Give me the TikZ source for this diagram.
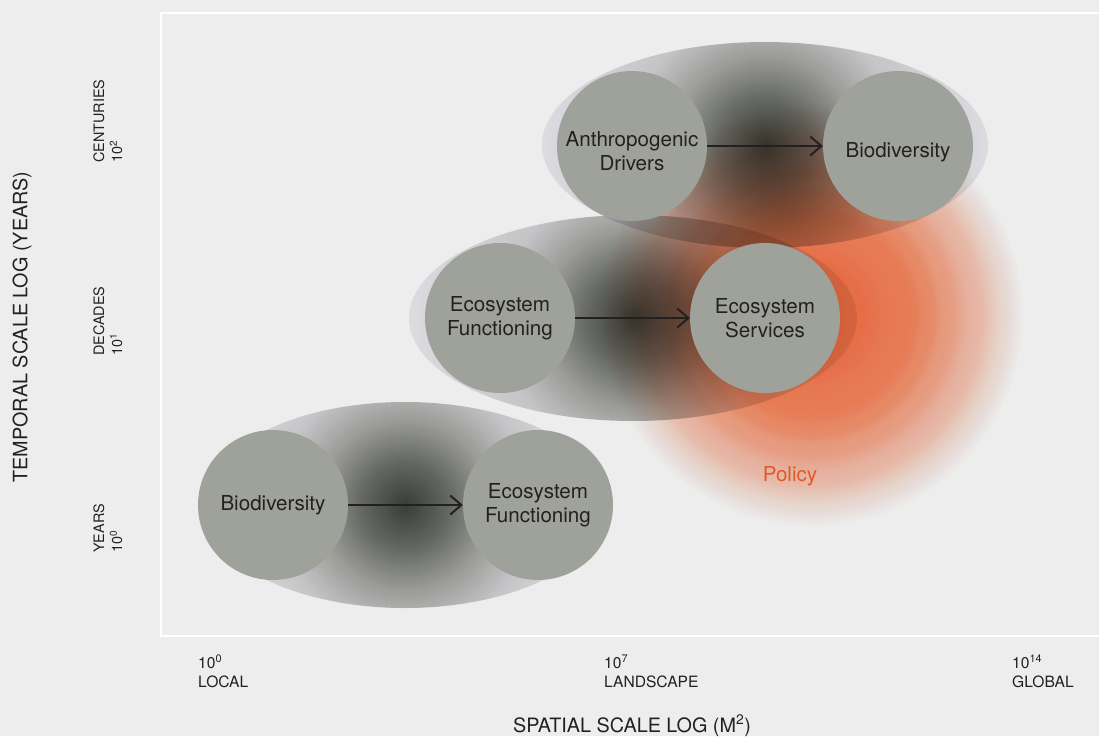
\documentclass[tikz,border=0pt]{standalone}
\usepackage{fontspec}
\setmainfont{TeX Gyre Heros}
\usetikzlibrary{arrows.meta,calc}

\definecolor{bg}{RGB}{237,237,237}
\definecolor{circfill}{RGB}{159,162,154}
\definecolor{ink}{RGB}{35,33,32}
\definecolor{polcol}{RGB}{230,95,40}
\definecolor{poltext}{RGB}{224,90,40}
% multiply factors for the soft ellipses
\definecolor{gA}{RGB}{62,66,60}
\definecolor{gB}{RGB}{108,111,105}
\definecolor{gC}{RGB}{168,169,165}
\definecolor{gD}{RGB}{213,213,216}
\definecolor{gE}{RGB}{237,237,243}
\definecolor{gF}{RGB}{252,252,252}

\pgfdeclareradialshading{ellshade}{\pgfpointorigin}{color(0bp)=(gA); color(5bp)=(gB); color(10bp)=(gC); color(15bp)=(gD); color(25bp)=(gE); color(50bp)=(gE)}
\pgfdeclareradialshading{ellshadeB}{\pgfpointorigin}{color(0bp)=(gA); color(5bp)=(gB); color(10bp)=(gC); color(15bp)=(gD); color(25bp)=(gF); color(50bp)=(gF)}

\tikzset{
  circnode/.style={circle, fill=circfill, minimum size=150pt, inner sep=0pt},
  ctext/.style={align=center, text=ink, inner sep=0pt, font=\fontsize{20.6}{23.5}\selectfont},
  tick/.style={align=left, text=ink, inner sep=0pt, font=\fontsize{15.6}{19}\selectfont},
  vtick/.style={text=ink, inner sep=0pt, rotate=90, anchor=base west, font=\fontsize{14.4}{18}\selectfont},
  axislab/.style={text=ink, inner sep=0pt, font=\fontsize{19.8}{23}\selectfont},
  arr/.style={draw=ink, line width=2pt, -{Straight Barb[length=11pt,width=19pt,line width=2pt]}},
  frame/.style={draw=white, line width=2.5pt}
}

\begin{document}
\begin{tikzpicture}[x=1pt, y=-1pt]
\useasboundingbox (0,0) rectangle (1099,736);
\fill[bg] (0,0) rectangle (1099,736);
\draw[frame] (1102,13) -- (161,13) -- (161,636) -- (1102,636);

% policy glow
\coordinate (P) at (812,315);
\foreach \k in {1,...,90}{
  \pgfmathsetmacro{\sA}{\k/90}
  \pgfmathsetmacro{\sB}{min(1,(\k+1)/90)}
  \pgfmathsetmacro{\OA}{\sA<=0.5 ? 0.85-0.35*\sA : (\sA<=0.8 ? 0.675-1.25*(\sA-0.5) : 0.3-1.5*(\sA-0.8))}
  \pgfmathsetmacro{\OB}{\sB<=0.5 ? 0.85-0.35*\sB : (\sB<=0.8 ? 0.675-1.25*(\sB-0.5) : 0.3-1.5*(\sB-0.8))}
  \pgfmathsetmacro{\al}{max(0,1-(1-\OA)/(1-\OB))}
  \fill[polcol, fill opacity=\al] (P) circle ({\sA*213});
}

% soft ellipses, multiplied over what lies below
\begin{scope}[blend mode=multiply]
  \begin{scope}
    \clip (405,505) ellipse [x radius=202, y radius=103];
    \shade[shading=ellshadeB] (405,505) circle (215);
  \end{scope}
  \begin{scope}
    \clip (765,145) ellipse [x radius=223, y radius=103];
    \shade[shading=ellshade] (765,145) circle (225);
  \end{scope}
  \begin{scope}
    \clip (633,318) ellipse [x radius=224, y radius=103];
    \shade[shading=ellshade] (633,318) circle (225);
  \end{scope}
\end{scope}

% circles
\node[circnode] (cA) at (632,146) {};
\node[circnode] (cB) at (898,146) {};
\node[circnode] (cC) at (500,318) {};
\node[circnode] (cD) at (765,318) {};
\node[circnode] (cE) at (273,505) {};
\node[circnode] (cF) at (538,505) {};

\node[ctext] (tA) at ($(cA)+(0,5)$) {Anthropogenic\\Drivers};
\node[ctext] (tB) at ($(cB)+(0,6)$) {Biodiversity};
\node[ctext] (tC) at (cC) {Ecosystem\\Functioning};
\node[ctext] (tD) at (cD) {Ecosystem\\Services};
\node[ctext] (tE) at (cE) {Biodiversity};
\node[ctext] (tF) at (cF) {Ecosystem\\Functioning};

\draw[arr] (cA.east) -- (cB.west);
\draw[arr] (cC.east) -- (cD.west);
\draw[arr] (cE.east) -- (cF.west);

\node[ctext, text=poltext, anchor=base] (pol) at (790,481) {Policy};

% axis labels
\node[axislab, rotate=90] (ylab) at (22,327) {TEMPORAL SCALE LOG (YEARS)};
\node[axislab, anchor=base] (xlab) at (632,732) {SPATIAL SCALE LOG (M\textsuperscript{2})};

% y ticks
\node[vtick] (y2a) at (104,163) {CENTURIES};
\node[vtick] (y2b) at (122,163) {10\textsuperscript{2}};
\node[vtick] (y1a) at (104,356) {DECADES};
\node[vtick] (y1b) at (122,356) {10\textsuperscript{1}};
\node[vtick] (y0a) at (104,553) {YEARS};
\node[vtick] (y0b) at (122,553) {10\textsuperscript{0}};

% x ticks
\node[tick, anchor=base west] (x0a) at (198,668) {10\textsuperscript{0}};
\node[tick, anchor=base west] (x0b) at (198,687) {LOCAL};
\node[tick, anchor=base west] (x7a) at (604,668) {10\textsuperscript{7}};
\node[tick, anchor=base west] (x7b) at (604,687) {LANDSCAPE};
\node[tick, anchor=base west] (x14a) at (1012,668) {10\textsuperscript{14}};
\node[tick, anchor=base west] (x14b) at (1012,687) {GLOBAL};
\end{tikzpicture}
\end{document}
